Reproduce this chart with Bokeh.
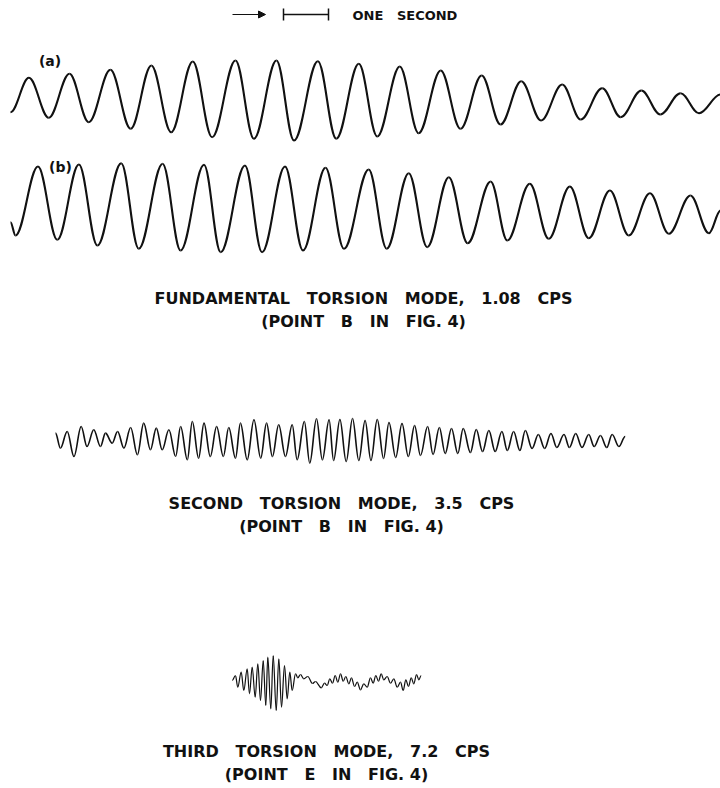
from bokeh.plotting import figure
from bokeh.models import Range1d, Arrow, NormalHead
from bokeh.embed import file_html
from bokeh.resources import INLINE
from bokeh.core.properties import value

# ---------------- data read from the records ----------------
# time (s) of each turning point of the trace, and deflection there (+ = up)
# (a) fundamental torsion mode, 1.08 cps
A_T = [0.00, 0.41, 0.85, 1.31, 1.74, 2.22, 2.67, 3.13, 3.57, 4.05, 4.48, 5.00,
       5.41, 5.91, 6.30, 6.83, 7.24, 7.74, 8.15, 8.65, 9.07, 9.56, 10.00, 10.47,
       10.89, 11.35, 11.79, 12.26, 12.67, 13.15, 13.56, 14.02, 14.44, 14.89,
       15.30, 15.78]
A_AMP = [-11.7, 22.7, -17.3, 26.7, -21.7, 30.7, -28.3, 35.0, -31.7, 39.0, -36.7,
         40.0, -38.3, 40.0, -40.0, 39.3, -38.3, 36.7, -36.0, 34.0, -32.7, 30.0,
         -28.3, 25.0, -24.0, 19.3, -20.0, 16.0, -19.0, 12.3, -16.7, 10.0, -14.0,
         7.3, -12.7, 6.0]

# (b) fundamental torsion mode, second record
B_T = [0.00, 0.11, 0.61, 1.04, 1.52, 1.93, 2.46, 2.85, 3.38, 3.78, 4.30, 4.67,
       5.21, 5.59, 6.10, 6.50, 7.00, 7.41, 7.96, 8.36, 8.85, 9.26, 9.74, 10.16,
       10.67, 11.04, 11.54, 11.96, 12.43, 12.85, 13.32, 13.74, 14.21, 14.63,
       15.11, 15.52, 15.78]
B_AMP = [-14.7, -28.0, 41.0, -32.3, 43.0, -38.0, 44.3, -41.3, 43.7, -43.0, 42.7,
         -44.7, 42.0, -44.7, 41.0, -43.0, 39.7, -41.3, 38.0, -41.3, 34.3, -39.7,
         30.3, -35.7, 26.0, -33.0, 23.7, -31.3, 21.0, -30.7, 17.0, -28.0, 14.3,
         -26.3, 12.0, -25.7, -3.0]

# second torsion mode, 3.5 cps
C_T = [0.00, 0.11, 0.26, 0.41, 0.57, 0.70, 0.85, 1.00, 1.11, 1.26, 1.38, 1.52,
       1.67, 1.82, 1.96, 2.11, 2.24, 2.37, 2.52, 2.67, 2.78, 2.93, 3.04, 3.18,
       3.30, 3.44, 3.58, 3.73, 3.85, 4.00, 4.11, 4.26, 4.41, 4.56, 4.69, 4.82,
       4.96, 5.11, 5.26, 5.37, 5.53, 5.65, 5.80, 5.93, 6.08, 6.18,
       6.32, 6.46, 6.60, 6.74, 6.88, 7.01, 7.15, 7.29, 7.41, 7.56, 7.70, 7.84,
       7.98, 8.11, 8.27, 8.39, 8.53, 8.66, 8.80, 8.94, 9.06, 9.22, 9.35, 9.49,
       9.63, 9.77, 9.92, 10.04, 10.18, 10.32, 10.44, 10.59, 10.73, 10.87, 11.01,
       11.14, 11.30, 11.42, 11.56, 11.70, 11.85, 11.97, 12.11, 12.25, 12.37,
       12.52, 12.66]
C_AMP = [8.4, -6.6, 10.0, -15.0, 15.0, -5.0, 11.7, -5.0, 8.4, -1.6, 10.0, -6.6,
         14.0, -13.3, 18.4, -8.3, 13.4, -8.3, 11.7, -15.0, 15.0, -18.3, 20.0,
         -16.6, 18.4, -15.0, 15.0, -15.0, 14.0, -16.6, 18.4, -18.3, 21.7, -16.6,
         18.4, -15.0, 16.7, -15.0, 16.7, -18.3, 20.0, -21.6, 22.7, -18.3, 21.7,
         -19.0,
         22.0, -20.0, 23.0, -19.0, 21.0, -19.0, 22.0, -17.0, 19.0, -16.0, 18.0,
         -15.0, 16.0, -14.0, 15.0, -13.0, 14.0, -12.0, 13.0, -12.0, 13.0, -11.0,
         12.0, -10.0, 11.0, -10.0, 10.0, -9.0, 10.0, -9.0, 11.0, -7.0, 7.0, -7.0,
         8.0, -6.0, 7.0, -6.0, 8.0, -6.0, 7.0, -5.0, 6.0, -6.0, 7.0, -5.0, 5.0]

# third torsion mode, 7.2 cps
D_T = [0.000, 0.073, 0.124, 0.200, 0.258, 0.333, 0.384, 0.444, 0.511, 0.569,
       0.629, 0.689, 0.747, 0.791, 0.858, 0.911, 0.978, 1.036, 1.096, 1.162,
       1.222, 1.280, 1.333,
       1.407, 1.458, 1.518, 1.591, 1.680, 1.784, 1.851, 1.978, 2.051, 2.111,
       2.169, 2.229, 2.289, 2.347, 2.407, 2.467, 2.524, 2.591, 2.651, 2.718,
       2.778, 2.851, 2.924, 3.000, 3.073, 3.133, 3.191, 3.251, 3.311, 3.369,
       3.444, 3.518, 3.591, 3.667, 3.740, 3.800, 3.858, 3.918, 3.978, 4.036,
       4.096, 4.147, 4.200]
D_AMP = [2.0, 7.0, -4.7, 10.3, -8.0, 13.7, -11.3, 15.3, -14.7, 18.7, -18.0, 22.0,
         -23.0, 25.3, -26.3, 27.0, -28.0, 23.7, -24.7, 17.0, -16.3, 10.3, -8.0,
         8.7, 4.7, 8.0, 3.7, 6.0, -1.0, 1.0, -5.3, -0.7, -3.0, 3.7, -0.7, 7.0,
         0.3, 8.7, 1.3, 6.0, -1.3, 4.7, -4.0, 0.3, -7.3, -1.3, -4.7, 4.7, -0.7,
         7.0, 1.3, 8.7, 2.7, 6.0, -0.7, 3.7, -4.7, 0.3, -8.0, 2.7, -4.0, 4.7,
         -1.3, 8.0, 2.7, 7.0]

SCALE_BAR_S = 1.0
LABEL_A = "(a)"
LABEL_B = "(b)"
SCALE_TEXT = "ONE SECOND"
CAPTIONS = [
    ("FUNDAMENTAL TORSION MODE, 1.08 CPS", "(POINT B IN FIG. 4)"),
    ("SECOND TORSION MODE, 3.5 CPS", "(POINT B IN FIG. 4)"),
    ("THIRD TORSION MODE, 7.2 CPS", "(POINT E IN FIG. 4)"),
]

# ---------------- layout / style ----------------
W, H = 720, 788
INK = "#111111"
FONT = value("DejaVu Sans")
PX_PER_S = 45.0
K = 0.363  # bezier handle for a half-cosine between turning points
GAP = "\u00a0\u00a0 "  # wide lettering gaps between words


def spaced(s, gap=GAP):
    return s.replace(" ", gap)


p = figure(width=W, height=H, output_backend="svg", toolbar_location=None,
           x_range=Range1d(0, W), y_range=Range1d(H, 0), min_border=0)
p.axis.visible = False
p.grid.visible = False
p.outline_line_color = None
p.background_fill_color = "white"
p.border_fill_color = "white"


def trace(t, amp, x0, y0, lw):
    xs = [x0 + PX_PER_S * v for v in t]
    ys = [y0 - a for a in amp]
    xa, xb = xs[:-1], xs[1:]
    ya, yb = ys[:-1], ys[1:]
    cx0 = [a + K * (b - a) for a, b in zip(xa, xb)]
    cx1 = [b - K * (b - a) for a, b in zip(xa, xb)]
    p.bezier(x0=xa, y0=ya, x1=xb, y1=yb, cx0=cx0, cy0=ya, cx1=cx1, cy1=yb,
             line_color=INK, line_width=lw)


trace(A_T, A_AMP, 10, 100, 2.1)
trace(B_T, B_AMP, 10, 207, 2.1)
trace(C_T, C_AMP, 55, 441, 1.6)
trace(D_T, D_AMP, 231.7, 682, 1.2)

# trace labels
p.text(x=[49.5, 60], y=[60, 166], text=[LABEL_A, LABEL_B], text_align="center",
       text_baseline="middle", text_font=FONT, text_font_style="bold",
       text_font_size="14px", text_color=INK)

# time scale header
p.add_layout(Arrow(x_start=232, y_start=14, x_end=265, y_end=14,
                   line_color=INK, line_width=1,
                   end=NormalHead(size=7, fill_color=INK, line_color=INK)))
bx0 = 283
bx1 = bx0 + PX_PER_S * SCALE_BAR_S
p.segment(x0=[bx0], y0=[14], x1=[bx1], y1=[14], line_color=INK, line_width=1.5)
p.segment(x0=[bx0, bx1], y0=[8, 8], x1=[bx0, bx1], y1=[20, 20],
          line_color=INK, line_width=1.5)
p.text(x=[352], y=[15], text=[spaced(SCALE_TEXT)], text_align="left",
       text_baseline="middle", text_font=FONT, text_font_style="bold",
       text_font_size="13px", text_color=INK)

# captions
cap_x = [363, 341, 326]
cap_y = [298, 503, 751]
for (l1, l2), cx, cy in zip(CAPTIONS, cap_x, cap_y):
    l2s = spaced(l2).replace("." + GAP, ". ")
    p.text(x=[cx, cx], y=[cy, cy + 23], text=[spaced(l1), l2s],
           text_align="center", text_baseline="middle", text_font=FONT,
           text_font_style="bold", text_font_size="16px", text_color=INK)

open("out.html", "w").write(file_html(p, INLINE))
